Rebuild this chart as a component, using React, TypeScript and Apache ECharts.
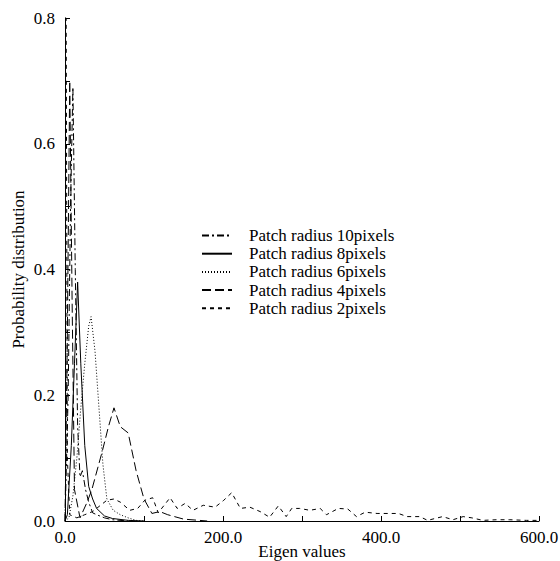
import React, { useEffect, useRef } from "react";
import * as echarts from "echarts";

const seriesNames = [
  "Patch radius 10pixels",
  "Patch radius 8pixels",
  "Patch radius 6pixels",
  "Patch radius 4pixels",
  "Patch radius 2pixels",
];

const r10: [number, number][] = [
  [0, 0], [4, 0.2], [7, 0.5], [10, 0.69], [13, 0.4], [16, 0.15], [19, 0.07],
  [22, 0.08], [26, 0.05], [30, 0.03], [35, 0.013], [40, 0.01], [50, 0.005],
  [60, 0.002], [80, 0],
];
const r8: [number, number][] = [
  [0, 0], [3, 0.01], [8, 0.12], [12, 0.25], [16, 0.38], [20, 0.25], [25, 0.12],
  [30, 0.055], [35, 0.035], [40, 0.02], [50, 0.008], [60, 0.004], [80, 0.001],
  [100, 0],
];
const r6: [number, number][] = [
  [0, 0], [5, 0.005], [10, 0.04], [15, 0.1], [20, 0.18], [25, 0.25], [30, 0.31],
  [33, 0.325], [38, 0.27], [43, 0.18], [48, 0.09], [53, 0.035], [61, 0.017],
  [70, 0.01], [80, 0.005], [90, 0.001], [100, 0],
];
const r4: [number, number][] = [
  [0, 0], [3, 0.3], [6, 0.7], [9, 0.35], [12, 0.05], [19, 0.005], [28, 0.03],
  [34, 0.05], [47, 0.11], [55, 0.15], [62, 0.18], [70, 0.15], [80, 0.14],
  [90, 0.08], [100, 0.035], [110, 0.012], [120, 0.015], [130, 0.01],
  [150, 0.003], [170, 0.001], [180, 0],
];
const r2: [number, number][] = [
  [0, 0.8], [1.5, 0.8], [3, 0.1], [6, 0.01], [15, 0.005], [25, 0.01],
  [35, 0.015], [45, 0.025], [53, 0.033], [62, 0.035], [70, 0.03], [82, 0.017],
  [92, 0.02], [101, 0.033], [111, 0.037], [118, 0.013], [133, 0.037],
  [142, 0.02], [152, 0.028], [162, 0.017], [175, 0.025], [190, 0.022],
  [201, 0.033], [211, 0.045], [222, 0.02], [234, 0.022], [247, 0.015],
  [259, 0.006], [270, 0.024], [280, 0.007], [287, 0.02], [297, 0.02],
  [310, 0.017], [323, 0.02], [331, 0.01], [346, 0.02], [358, 0.019],
  [369, 0.007], [380, 0.014], [395, 0.012], [411, 0.012], [422, 0.012],
  [433, 0.007], [449, 0.007], [459, 0.001], [478, 0.007], [491, 0.002],
  [504, 0.007], [515, 0.005], [529, 0.001], [546, 0.002], [563, 0.002],
  [584, 0.001], [600, 0.001],
];

const seriesData = [r10, r8, r6, r4, r2];
const dashTypes: any[] = [[7, 3, 2, 3], "solid", [1, 2], [9, 4], [4, 4]];

const FONT = "'Liberation Serif', 'Times New Roman', serif";

export default function App() {
  const ref = useRef<HTMLDivElement>(null);
  useEffect(() => {
    if (!ref.current) return;
    const chart = echarts.init(ref.current, undefined, {
      renderer: "svg",
      width: 560,
      height: 561,
    });
    chart.setOption({
      animation: false,
      backgroundColor: "#fff",
      textStyle: { fontFamily: FONT },
      grid: {
        left: 65,
        right: 21,
        top: 18,
        bottom: 40,
        containLabel: false,
        outerBoundsMode: "none",
      },
      legend: {
        orient: "vertical",
        left: 196,
        top: 222,
        itemWidth: 30,
        itemHeight: 14,
        itemGap: 1.2,
        data: seriesNames,
        itemStyle: { opacity: 0, borderWidth: 0 },
        textStyle: {
          fontFamily: FONT,
          fontSize: 17,
          color: "#000",
          padding: [0, 0, 0, 12],
        },
      },
      xAxis: {
        type: "value",
        min: 0,
        max: 600,
        interval: 100,
        name: "Eigen values",
        nameLocation: "middle",
        nameGap: 22,
        nameMoveOverlap: false,
        nameTextStyle: { fontFamily: FONT, fontSize: 17, color: "#000" },
        axisLine: { lineStyle: { color: "#000", width: 1 } },
        axisTick: { inside: true, length: 5, lineStyle: { color: "#000" } },
        splitLine: { show: false },
        axisLabel: {
          fontFamily: FONT,
          fontSize: 17,
          color: "#000",
          margin: 8,
          formatter: (v: number) => (v % 200 === 0 ? v.toFixed(1) : ""),
        },
      },
      yAxis: {
        type: "value",
        min: 0,
        max: 0.8,
        interval: 0.1,
        name: "Probability distribution",
        nameLocation: "middle",
        nameGap: 38,
        nameMoveOverlap: false,
        nameTextStyle: { fontFamily: FONT, fontSize: 17, color: "#000" },
        axisLine: { show: true, lineStyle: { color: "#000", width: 1 } },
        axisTick: { show: true, inside: true, length: 5, lineStyle: { color: "#000" } },
        splitLine: { show: false },
        axisLabel: {
          fontFamily: FONT,
          fontSize: 17,
          color: "#000",
          margin: 10,
          formatter: (v: number) =>
            Math.round(v * 10) % 2 === 0 ? v.toFixed(1) : "",
        },
      },
      series: seriesNames.map((name, i) => ({
        name,
        type: "line",
        data: seriesData[i],
        symbol: "none",
        lineStyle: { color: "#000", width: 1, type: dashTypes[i] },
        itemStyle: { color: "#000" },
      })),
    });
    return () => chart.dispose();
  }, []);
  return (
    <div
      ref={ref}
      style={{ position: "fixed", left: 0, top: 0, width: 560, height: 561 }}
    />
  );
}
